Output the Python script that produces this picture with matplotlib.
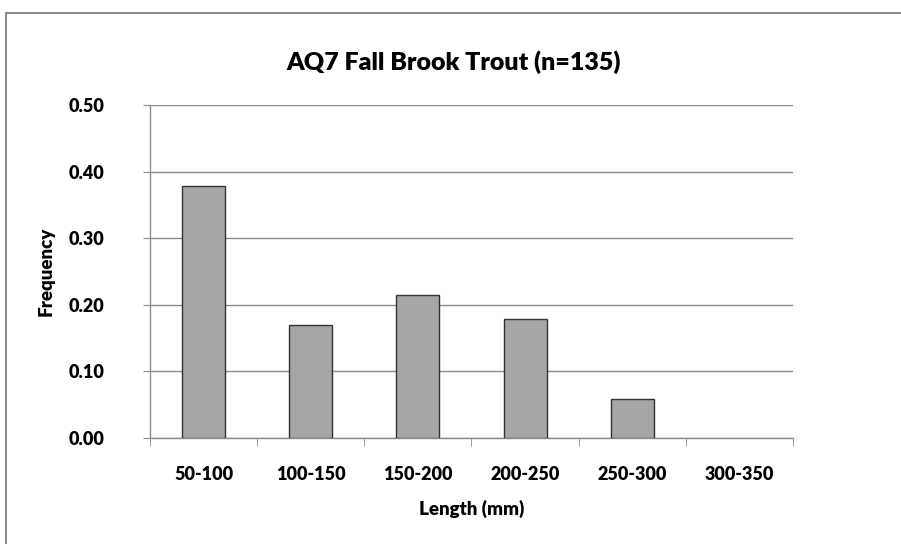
import matplotlib
matplotlib.use("Agg")
import matplotlib.pyplot as plt
from matplotlib.patches import Rectangle

categories = ["50-100", "100-150", "150-200", "200-250", "250-300", "300-350"]
frequency = [0.378, 0.170, 0.215, 0.178, 0.059, 0.0]
yticks = [0.0, 0.1, 0.2, 0.3, 0.4, 0.5]

plt.rcParams['font.family'] = ['Lato', 'DejaVu Sans']
fig = plt.figure(figsize=(9.01, 5.44), dpi=100)
ax = fig.add_axes([150/901, 1-438/544, (793-150)/901, (438-105)/544])

x = range(len(categories))
lws = [1.0 if v > 0 else 0.0 for v in frequency]
ax.bar(x, frequency, width=0.4, color="#a6a6a6", edgecolor="#333333", linewidth=lws, zorder=3)
ax.set_xlim(-0.5, len(categories)-0.5)
ax.set_ylim(0, 0.5)
ax.set_yticks(yticks)
ax.set_yticklabels([f"{v:.2f}" for v in yticks], fontsize=13, fontweight="heavy")
ax.yaxis.grid(True, color="#8c8c8c", linewidth=1.0, zorder=0)
ax.set_xticks(list(x))
ax.set_xticklabels(categories, fontsize=13, fontweight="heavy")
ax.tick_params(axis="x", length=0, pad=20)
ax.set_xticks([i-0.5 for i in range(len(categories)+1)], minor=True)
ax.tick_params(axis="x", which="minor", length=6, color="#8c8c8c", direction="out")
ax.tick_params(axis="y", length=5, color="#8c8c8c", direction="out", pad=28)
for lab in ax.get_yticklabels():
    lab.set_horizontalalignment("right")
for s in ["top", "right"]:
    ax.spines[s].set_visible(False)
for s in ["left", "bottom"]:
    ax.spines[s].set_color("#8c8c8c")
    ax.spines[s].set_linewidth(1.0)
ax.set_xlabel("Length (mm)", fontsize=13.5, fontweight="heavy", labelpad=12)
ax.set_ylabel("Frequency", fontsize=13.5, fontweight="heavy", labelpad=10)
fig.text(454/901, 1-62/544, "AQ7 Fall Brook Trout (n=135)", ha="center", va="center",
         fontsize=18, fontweight="heavy")

fig.patches.append(Rectangle((6/901, -0.05), 1.0, (544-13)/544+0.05, transform=fig.transFigure,
                             fill=False, edgecolor="#8c8c8c", linewidth=1.5))
fig.savefig("out.png", dpi=100)
